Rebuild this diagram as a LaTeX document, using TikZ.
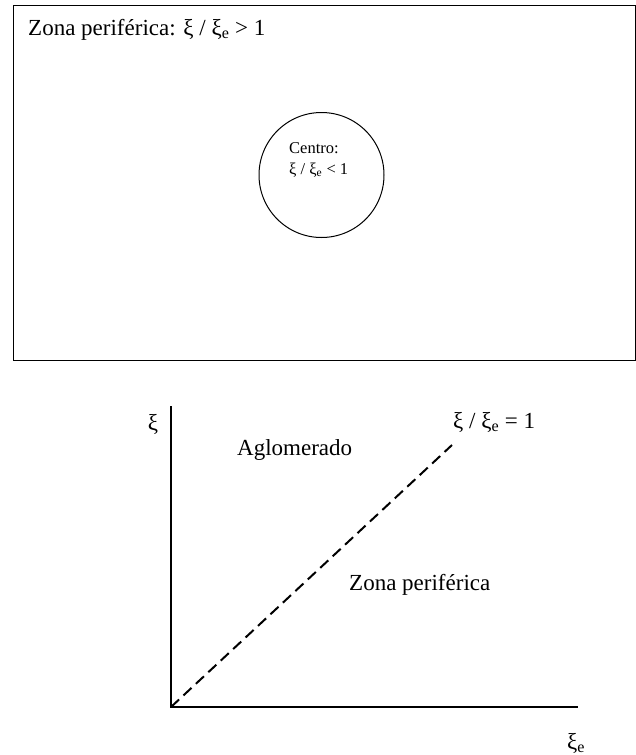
\documentclass[tikz,border=0pt]{standalone}
\usepackage{fontspec}
\setmainfont{Liberation Serif}
\newcommand{\xie}{ξ\textsubscript{e}}
\begin{document}
\begin{tikzpicture}[x=1pt,y=-1pt,
  lbl/.style={inner sep=0pt, anchor=base west},
  bigtxt/.style={lbl, font=\fontsize{23}{27}\selectfont},
  smalltxt/.style={lbl, font=\fontsize{16.5}{19}\selectfont},
  frame/.style={draw, line width=1pt},
  axis/.style={draw, line width=1.2pt},
  diag/.style={draw, line width=2pt, dash pattern=on 11pt off 6pt}]
\useasboundingbox (0,0) rectangle (636,755);
% upper frame
\node[frame, minimum width=622pt, minimum height=355pt, anchor=north west, inner sep=0pt] (box) at (12.5,5) {};
\node[bigtxt] (zona) at (28,35) {Zona periférica: ξ / \xie{} > 1};
\node[frame, circle, minimum size=125pt, inner sep=0pt] (centro) at (321.5,175) {};
\node[smalltxt] (ct1) at (289,153) {Centro:};
\node[smalltxt] (ct2) at (289,174) {ξ / \xie{} < 1};
% lower graph
\coordinate (o) at (171,707);
\coordinate (ytop) at (171,406);
\coordinate (xend) at (578,707);
\coordinate (dend) at (452,445);
\draw[axis] (ytop) -- (o) -- (xend);
\draw[diag] (o) -- (dend);
\node[font=\fontsize{23}{27}\selectfont, inner sep=0pt] (yl) at (153,424) {ξ};
\node[font=\fontsize{23}{27}\selectfont, inner sep=0pt] (xl) at (576,743) {\xie};
\node[bigtxt] (agl) at (237,455) {Aglomerado};
\node[bigtxt] (eq) at (453,428) {ξ / \xie{} = 1};
\node[bigtxt] (zp) at (349,590) {Zona periférica};
\end{tikzpicture}
\end{document}
